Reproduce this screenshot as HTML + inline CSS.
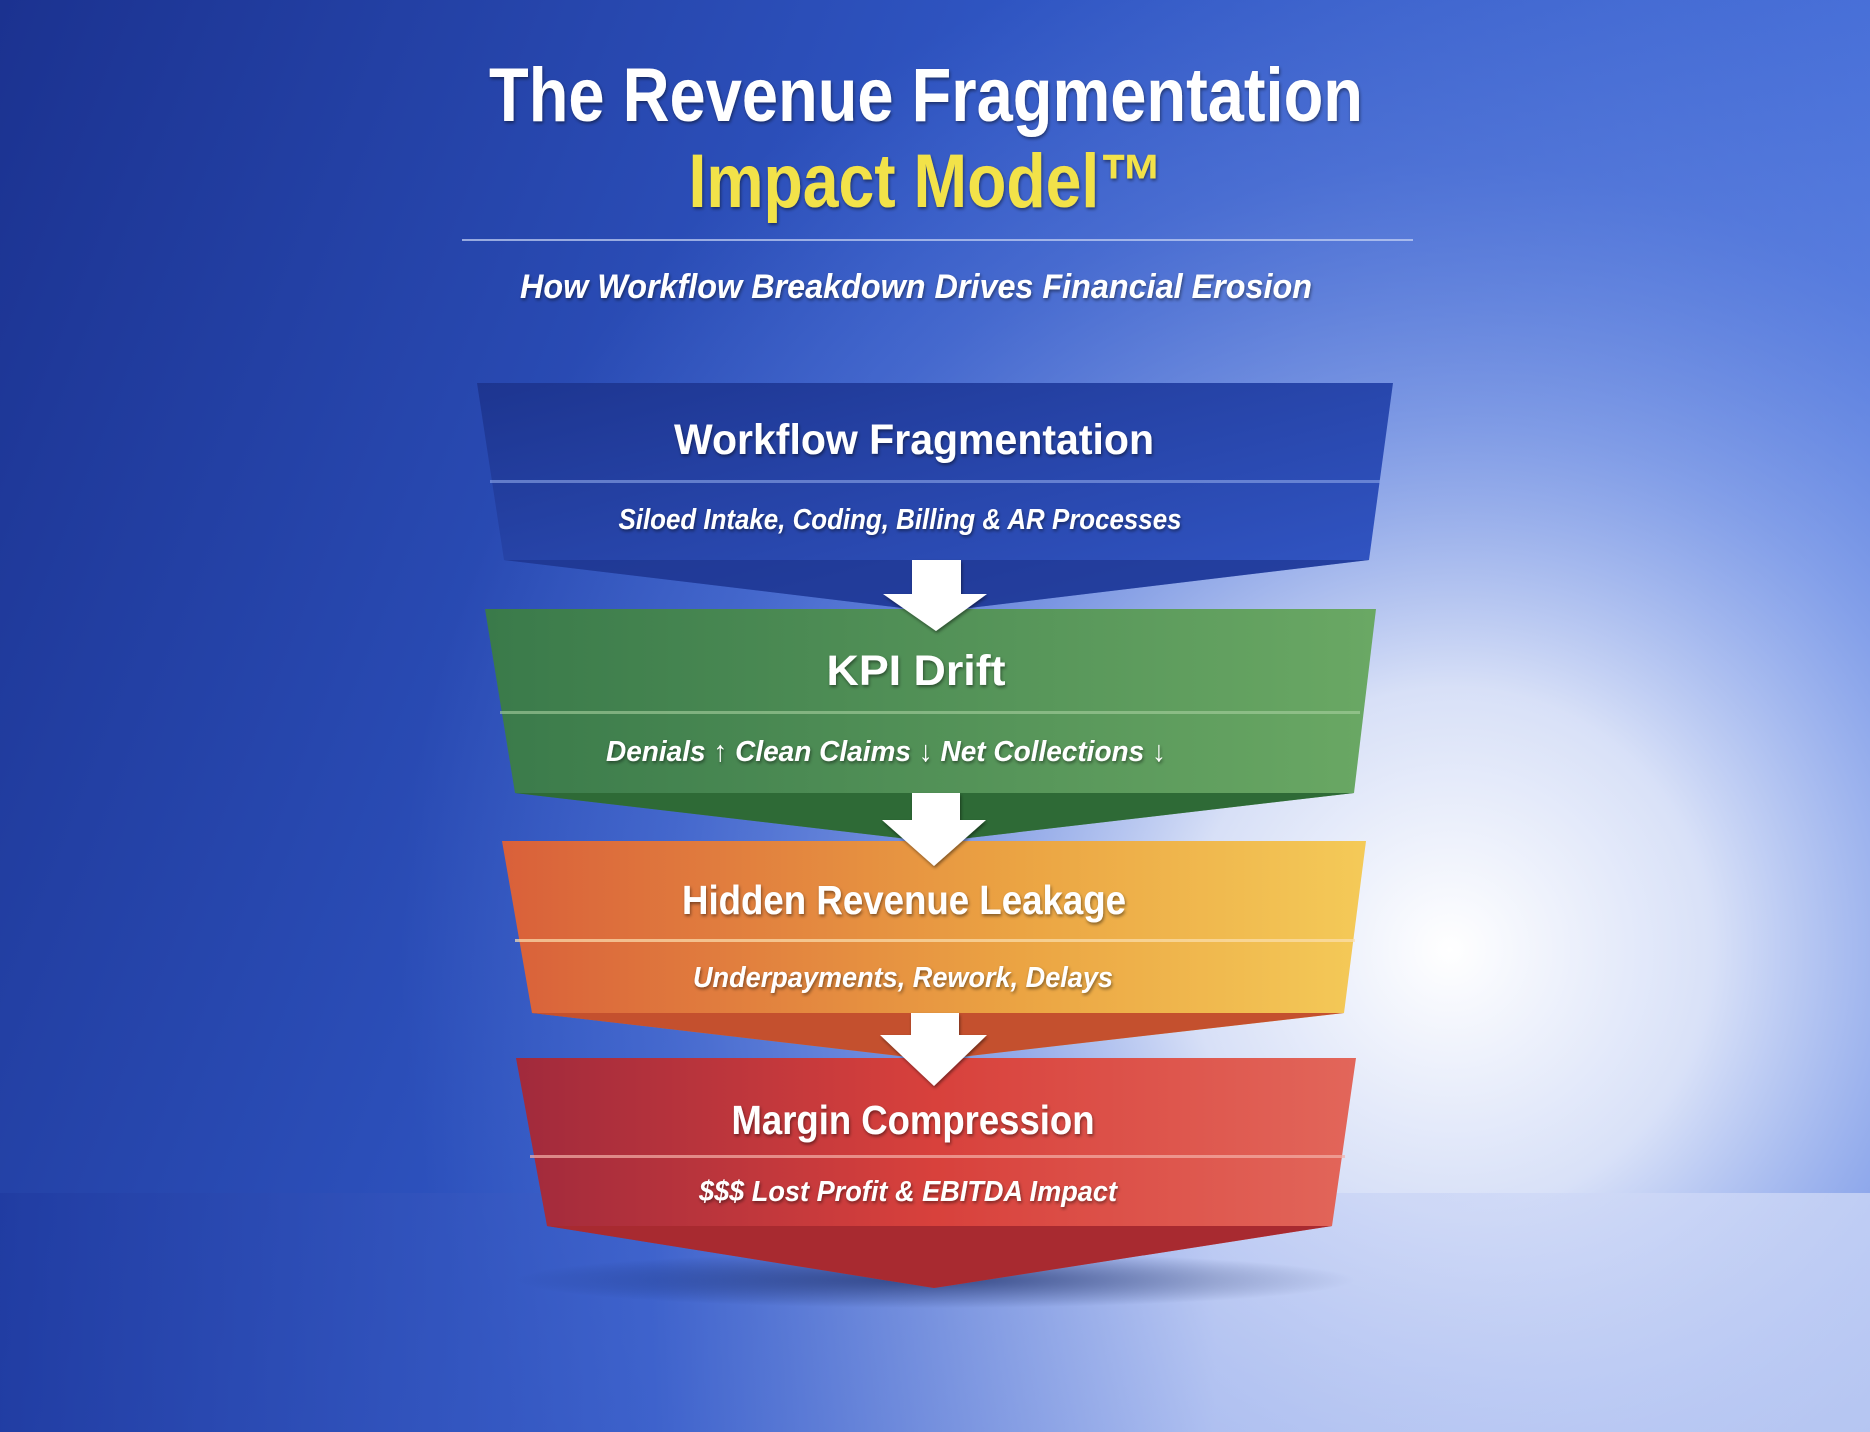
<!DOCTYPE html>
<html><head><meta charset="utf-8"><style>
html,body{margin:0;padding:0;width:1870px;height:1432px;overflow:hidden;background:#2f56c4}
svg{display:block}
text{font-family:"Liberation Sans","DejaVu Sans",sans-serif;fill:#fff}
</style></head><body>
<svg width="1870" height="1432" viewBox="0 0 1870 1432" xmlns="http://www.w3.org/2000/svg">
<defs>
<linearGradient id="bg" x1="0" y1="0" x2="1" y2="0.3">
<stop offset="0" stop-color="#1b3290"/><stop offset="0.5" stop-color="#2f55c2"/><stop offset="1" stop-color="#4c74dc"/>
</linearGradient>
<radialGradient id="glow" gradientUnits="userSpaceOnUse" cx="1450" cy="950" r="1050">
<stop offset="0" stop-color="#ffffff" stop-opacity="1"/><stop offset="0.25" stop-color="#e8edfb" stop-opacity="0.9"/><stop offset="0.5" stop-color="#a9bdf2" stop-opacity="0.6"/><stop offset="0.75" stop-color="#7593e6" stop-opacity="0.3"/><stop offset="1" stop-color="#6f90e6" stop-opacity="0"/>
</radialGradient>
<linearGradient id="floor" x1="0" y1="0" x2="1" y2="0">
<stop offset="0" stop-color="#1f3aa0"/><stop offset="0.35" stop-color="#3e62cc"/><stop offset="0.65" stop-color="#c4d0f5"/><stop offset="1" stop-color="#d4ddf8"/>
</linearGradient>
<linearGradient id="g1" x1="0" y1="0" x2="1" y2="1"><stop offset="0" stop-color="#1d3590"/><stop offset="1" stop-color="#3358c8"/></linearGradient>
<linearGradient id="g2" x1="0" y1="0" x2="1" y2="0"><stop offset="0" stop-color="#3a7a4a"/><stop offset="1" stop-color="#6aa864"/></linearGradient>
<linearGradient id="g3" x1="0" y1="0" x2="1" y2="0"><stop offset="0" stop-color="#d9603a"/><stop offset="0.6" stop-color="#eba443"/><stop offset="1" stop-color="#f4ca58"/></linearGradient>
<linearGradient id="g4" x1="0" y1="0" x2="1" y2="0"><stop offset="0" stop-color="#a12a3c"/><stop offset="0.5" stop-color="#d8413c"/><stop offset="1" stop-color="#e2665a"/></linearGradient>
<radialGradient id="shadow" cx="0.5" cy="0.5" r="0.5"><stop offset="0" stop-color="#0a1a50" stop-opacity="0.6"/><stop offset="1" stop-color="#0a1a50" stop-opacity="0"/></radialGradient>
<filter id="ts"><feDropShadow dx="1" dy="2" stdDeviation="1.5" flood-color="#000" flood-opacity="0.45"/></filter>
</defs>
<rect width="1870" height="1432" fill="url(#bg)"/>
<rect width="1870" height="1432" fill="url(#glow)"/>
<rect y="1193" width="1870" height="239" fill="url(#floor)" opacity="0.7"/>
<ellipse cx="935" cy="1280" rx="420" ry="28" fill="url(#shadow)"/>

<text x="926" y="121" font-size="76" font-weight="bold" text-anchor="middle" textLength="874" lengthAdjust="spacingAndGlyphs" filter="url(#ts)">The Revenue Fragmentation</text>
<text x="926" y="207" font-size="76" font-weight="bold" text-anchor="middle" textLength="475" lengthAdjust="spacingAndGlyphs" style="fill:#f2e24a" filter="url(#ts)">Impact Model™</text>
<rect x="462" y="239" width="951" height="2" fill="#c8d4f5" opacity="0.7"/>
<text x="916" y="298" font-size="34" font-weight="bold" font-style="italic" text-anchor="middle" textLength="792" lengthAdjust="spacingAndGlyphs" filter="url(#ts)">How Workflow Breakdown Drives Financial Erosion</text>

<polygon points="477,383 1393,383 1369,560 936,612 504,560" fill="url(#g1)"/>
<polygon points="504,560 1369,560 936,612" fill="#1c3288" opacity="0.6"/>
<rect x="490" y="480" width="890" height="3" fill="#8ea6e8" opacity="0.6"/>
<text x="914" y="454" font-size="43" font-weight="bold" text-anchor="middle" textLength="480" lengthAdjust="spacingAndGlyphs" filter="url(#ts)">Workflow Fragmentation</text>
<text x="900" y="529" font-size="29" font-weight="bold" font-style="italic" text-anchor="middle" textLength="563" lengthAdjust="spacingAndGlyphs" filter="url(#ts)">Siloed Intake, Coding, Billing &amp; AR Processes</text>

<polygon points="485,609 1376,609 1354,793 934,842 515,793" fill="url(#g2)"/>
<polygon points="515,793 1354,793 934,842" fill="#2e6a36"/>
<rect x="500" y="711" width="860" height="3" fill="#a8d0a0" opacity="0.6"/>
<text x="916" y="685" font-size="43" font-weight="bold" text-anchor="middle" textLength="179" lengthAdjust="spacingAndGlyphs" filter="url(#ts)">KPI Drift</text>
<text x="886" y="761" font-size="29" font-weight="bold" font-style="italic" text-anchor="middle" textLength="560" lengthAdjust="spacingAndGlyphs" filter="url(#ts)">Denials ↑ Clean Claims ↓ Net Collections ↓</text>

<polygon points="912,560 961,560 961,594 987,594 936,631 883,594 912,594" fill="#fff" filter="url(#ts)"/>

<polygon points="502,841 1366,841 1344,1013 934,1060 532,1013" fill="url(#g3)"/>
<polygon points="532,1013 1344,1013 934,1060" fill="#c4502e"/>
<rect x="515" y="939" width="840" height="3" fill="#fbe0b0" opacity="0.7"/>
<text x="904" y="914" font-size="41" font-weight="bold" text-anchor="middle" textLength="444" lengthAdjust="spacingAndGlyphs" filter="url(#ts)">Hidden Revenue Leakage</text>
<text x="903" y="987" font-size="29" font-weight="bold" font-style="italic" text-anchor="middle" textLength="420" lengthAdjust="spacingAndGlyphs" filter="url(#ts)">Underpayments, Rework, Delays</text>

<polygon points="912,793 960,793 960,820 986,820 934,866 882,820 912,820" fill="#fff" filter="url(#ts)"/>

<polygon points="516,1058 1356,1058 1332,1226 934,1288 547,1226" fill="url(#g4)"/>
<polygon points="547,1226 1332,1226 934,1288" fill="#a82a30"/>
<rect x="530" y="1155" width="815" height="3" fill="#f4b0a8" opacity="0.7"/>
<text x="913" y="1134" font-size="41" font-weight="bold" text-anchor="middle" textLength="363" lengthAdjust="spacingAndGlyphs" filter="url(#ts)">Margin Compression</text>
<text x="908" y="1201" font-size="29" font-weight="bold" font-style="italic" text-anchor="middle" textLength="418" lengthAdjust="spacingAndGlyphs" filter="url(#ts)">$$$ Lost Profit &amp; EBITDA Impact</text>

<polygon points="911,1013 959,1013 959,1035 987,1035 934,1086 880,1035 911,1035" fill="#fff" filter="url(#ts)"/>
</svg>
</body></html>
